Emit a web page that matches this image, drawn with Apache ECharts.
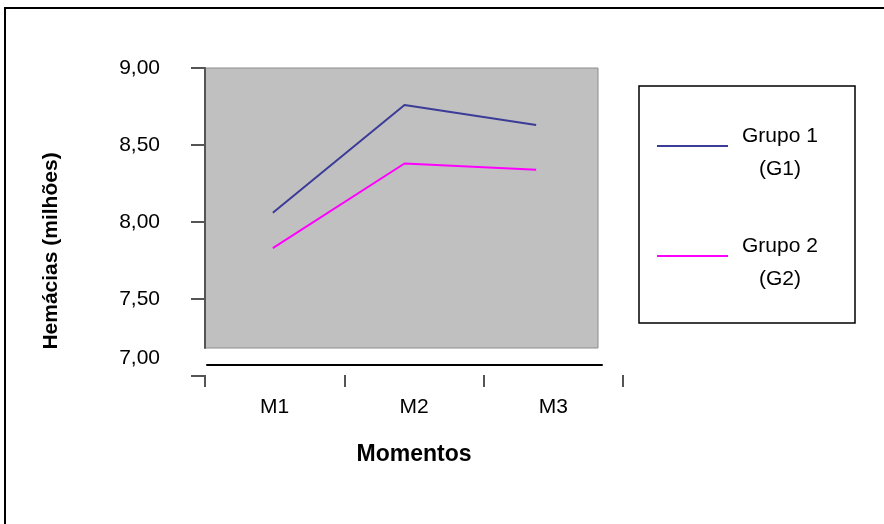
<!DOCTYPE html>
<html>
<head>
<meta charset="utf-8">
<script src="https://cdn.jsdelivr.net/npm/echarts@6/dist/echarts.min.js"></script>
<style>
html,body{margin:0;padding:0;background:#fff;}
#chart{width:884px;height:524px;}
</style>
</head>
<body>
<div id="chart"></div>
<script>
const categories = ['M1', 'M2', 'M3'];
const seriesNames = ['Grupo 1', 'Grupo 2'];
const seriesCodes = ['(G1)', '(G2)'];
const grupo1 = [8.06, 8.76, 8.63];
const grupo2 = [7.83, 8.38, 8.34];
const yMin = 7, yMax = 9, yStep = 0.5;
const xTitle = 'Momentos';
const yTitle = 'Hemácias (milhões)';

const FONT = '"Liberation Sans", Arial, sans-serif';
const colors = ['#3b3b98', '#ff00ff'];
const FS = 21;

const chart = echarts.init(document.getElementById('chart'));
const fmt = v => v.toFixed(2).replace('.', ',');

function legendFor(i, top) {
  return {
    orient: 'vertical', left: 657, top: top,
    itemWidth: 71, itemHeight: 2, icon: 'rect', itemGap: 0,
    padding: 0,
    data: [seriesNames[i]],
    formatter: name => '{s| }\n{a|' + name + '}\n{b|' + seriesCodes[seriesNames.indexOf(name)] + '}',
    textStyle: {
      fontFamily: FONT, fontSize: FS, color: '#000',
      rich: {
        s: { fontSize: 4, lineHeight: 14, fontFamily: FONT },
        a: { fontSize: FS, lineHeight: 33, fontFamily: FONT, color: '#000', padding: [0, 0, 0, 9] },
        b: { fontSize: FS, lineHeight: 33, fontFamily: FONT, color: '#000', align: 'center', padding: [0, 0, 0, 9] }
      }
    }
  };
}

chart.setOption({
  animation: false,
  backgroundColor: '#ffffff',
  textStyle: { fontFamily: FONT },
  grid: [
    { left: 207, top: 68, width: 395, height: 308, show: false },
    { left: 205, top: 68, width: 393, height: 280, show: true,
      backgroundColor: '#c0c0c0', borderColor: '#8c8c8c', borderWidth: 1, z: 0 },
    { left: 205, top: 374, width: 418, height: 1, show: false }
  ],
  xAxis: [
    { type: 'category', gridIndex: 0, data: categories, boundaryGap: true,
      offset: -11,
      axisLine: { show: true, lineStyle: { color: '#000', width: 2 } },
      axisTick: { show: false }, axisLabel: { show: false }, splitLine: { show: false } },
    { type: 'category', gridIndex: 1, data: categories, show: false },
    { type: 'category', gridIndex: 2, data: categories, boundaryGap: true,
      axisLine: { show: false },
      axisTick: { show: true, length: 12, lineStyle: { color: '#555', width: 2 } },
      axisLabel: { show: true, margin: 22, color: '#000', fontSize: FS, fontFamily: FONT },
      name: xTitle, nameLocation: 'middle', nameGap: 68,
      nameTextStyle: { fontSize: 23, fontWeight: 'bold', color: '#000', fontFamily: FONT } }
  ],
  yAxis: [
    { type: 'value', gridIndex: 0, min: yMin, max: yMax, interval: yStep, offset: 2,
      axisLine: { show: false },
      axisTick: { show: true, length: 14, lineStyle: { color: '#555', width: 2 } },
      splitLine: { show: false },
      axisLabel: {
        margin: 45, color: '#000', fontSize: FS, fontFamily: FONT,
        formatter: v => v === yMin ? '{low|' + fmt(v) + '}' : fmt(v),
        rich: { low: { fontSize: FS, fontFamily: FONT, color: '#000', padding: [0, 0, 36, 0] } }
      },
      name: yTitle, nameLocation: 'middle', nameGap: 143,
      nameTextStyle: { fontSize: 21, fontWeight: 'bold', color: '#000', fontFamily: FONT,
        padding: [0, 58, 0, 0] } },
    { type: 'value', gridIndex: 1, min: 0, max: 1,
      axisLine: { show: true, lineStyle: { color: '#555', width: 2 } },
      axisTick: { show: false }, axisLabel: { show: false }, splitLine: { show: false } },
    { type: 'value', gridIndex: 2, show: false }
  ],
  legend: [legendFor(0, 111), legendFor(1, 221)],
  graphic: [
    { type: 'rect', shape: { x: 639, y: 86, width: 216, height: 237 },
      style: { fill: 'none', stroke: '#000', lineWidth: 1.5 }, z: 100, silent: true },
    { type: 'rect', shape: { x: 5, y: 8, width: 1000, height: 1000 },
      style: { fill: 'none', stroke: '#000', lineWidth: 2 }, z: 100, silent: true }
  ],
  series: [
    { name: seriesNames[0], type: 'line', xAxisIndex: 0, yAxisIndex: 0, data: grupo1,
      symbol: 'none', color: colors[0], lineStyle: { width: 2, color: colors[0] }, z: 5 },
    { name: seriesNames[1], type: 'line', xAxisIndex: 0, yAxisIndex: 0, data: grupo2,
      symbol: 'none', color: colors[1], lineStyle: { width: 2, color: colors[1] }, z: 5 }
  ]
});
</script>
</body>
</html>
